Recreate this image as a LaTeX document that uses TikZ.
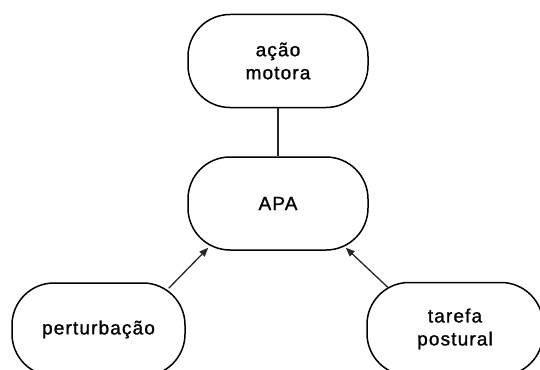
\documentclass[tikz,border=0pt]{standalone}
\usepackage{fontspec}
\setmainfont{Liberation Sans}[LetterSpace=6,FakeBold=1.2]
\usetikzlibrary{arrows.meta,calc}
\tikzset{
  box/.style={draw=black, line width=1.5pt, rounded corners=42pt,
    minimum width=180pt, minimum height=93pt, inner sep=0pt,
    align=center, font=\fontsize{19pt}{23pt}\selectfont},
  link/.style={draw=black!85, line width=1.3pt},
  arr/.style={link, -{Triangle[length=9pt,width=7pt]}}
}
\begin{document}
\begin{tikzpicture}[x=1pt,y=-1pt]
\useasboundingbox (0,0) rectangle (540,369);
\clip (0,0) rectangle (540,369);
\node[box] (acao) at (278,61) {ação\\motora};
\node[box] (apa) at (278,203.5) {APA};
\node[box, minimum width=173pt] (pert) at (98.5,329.5) {perturbação};
\node[box, minimum width=176pt] (taref) at (455,329) {tarefa\\postural};
\draw[link] (acao.south) -- (apa.north);
\draw[arr] ($(pert.north east)+(-17,6)$) -- ($(apa.south west)+(21,-3)$);
\draw[arr] ($(taref.north west)+(22,6)$) -- ($(apa.south east)+(-23,-3)$);
\end{tikzpicture}
\end{document}
